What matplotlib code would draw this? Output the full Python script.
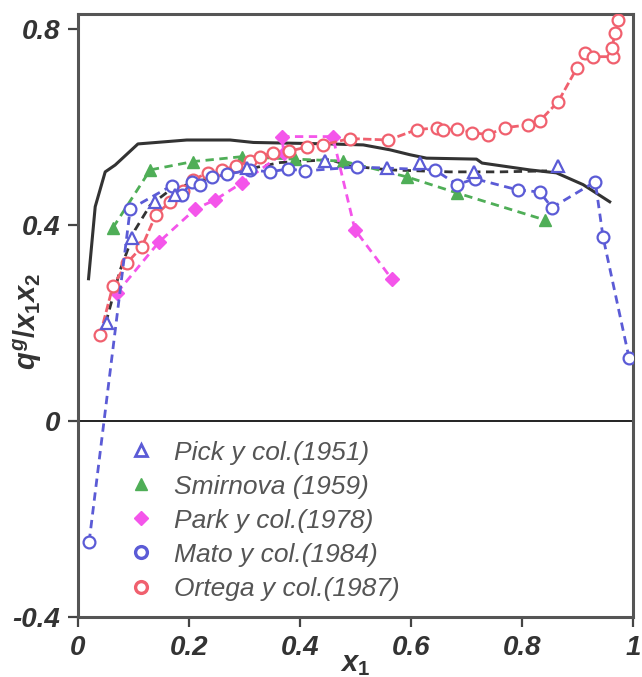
import matplotlib
matplotlib.use("Agg")
import matplotlib.pyplot as plt
from matplotlib.lines import Line2D

# ---- data -------------------------------------------------------------
pick_x = [0.052, 0.097, 0.139, 0.175, 0.304, 0.445, 0.557, 0.616, 0.713, 0.865]
pick_y = [0.200, 0.373, 0.447, 0.461, 0.516, 0.530, 0.516, 0.526, 0.508, 0.519]

smir_x = [0.063, 0.130, 0.207, 0.295, 0.391, 0.477, 0.592, 0.683, 0.841]
smir_y = [0.394, 0.512, 0.529, 0.539, 0.534, 0.530, 0.498, 0.465, 0.410]

park_x = [0.070, 0.146, 0.211, 0.247, 0.296, 0.371, 0.367, 0.459, 0.499, 0.565]
park_y = [0.261, 0.365, 0.432, 0.451, 0.486, 0.547, 0.580, 0.580, 0.390, 0.290]

mato_x = [0.020, 0.094, 0.169, 0.187, 0.205, 0.220, 0.241, 0.268, 0.310, 0.346,
          0.378, 0.409, 0.502, 0.643, 0.683, 0.715, 0.793, 0.832, 0.854, 0.932,
          0.946, 0.993]
mato_y = [-0.247, 0.432, 0.480, 0.461, 0.488, 0.482, 0.497, 0.503, 0.512, 0.508,
          0.514, 0.510, 0.518, 0.512, 0.482, 0.494, 0.471, 0.467, 0.435, 0.488,
          0.375, 0.128]

ort_x = [0.040, 0.063, 0.088, 0.115, 0.140, 0.166, 0.190, 0.207, 0.234, 0.260,
         0.285, 0.310, 0.328, 0.351, 0.380, 0.413, 0.441, 0.490, 0.559, 0.610,
         0.647, 0.658, 0.683, 0.710, 0.739, 0.769, 0.811, 0.832, 0.865, 0.899,
         0.914, 0.928, 0.964, 0.962, 0.968, 0.973]
ort_y = [0.176, 0.276, 0.322, 0.355, 0.420, 0.447, 0.470, 0.492, 0.506, 0.512,
         0.520, 0.530, 0.539, 0.547, 0.550, 0.559, 0.563, 0.576, 0.573, 0.594,
         0.598, 0.594, 0.596, 0.588, 0.584, 0.598, 0.604, 0.612, 0.651, 0.720,
         0.751, 0.743, 0.743, 0.761, 0.792, 0.818]

# correlation curves
fit_x = [0.050, 0.076, 0.103, 0.130, 0.166, 0.220, 0.290, 0.364, 0.454, 0.490,
         0.562, 0.670, 0.760, 0.845]
fit_y = [0.200, 0.308, 0.390, 0.440, 0.471, 0.490, 0.510, 0.527, 0.533, 0.520,
         0.512, 0.508, 0.508, 0.510]

model_x = [0.019, 0.031, 0.049, 0.067, 0.108, 0.196, 0.274, 0.316, 0.454, 0.514,
           0.562, 0.598, 0.628, 0.718, 0.728, 0.814, 0.862, 0.910, 0.958]
model_y = [0.290, 0.437, 0.508, 0.522, 0.565, 0.573, 0.573, 0.568, 0.565, 0.563,
           0.553, 0.543, 0.536, 0.534, 0.526, 0.512, 0.506, 0.482, 0.447]

labels = ["Pick y col.(1951)", "Smirnova (1959)", "Park y col.(1978)",
          "Mato y col.(1984)", "Ortega y col.(1987)"]
x_ticks = [0, 0.2, 0.4, 0.6, 0.8, 1]
x_tick_labels = ["0", "0.2", "0.4", "0.6", "0.8", "1"]
y_ticks = [-0.4, 0, 0.4, 0.8]
y_tick_labels = ["-0.4", "0", "0.4", "0.8"]

# ---- style ------------------------------------------------------------
BLUE = "#5b5bd6"
GREEN = "#4fae57"
MAGENTA = "#f455ea"
RED = "#f0606e"
DARK = "#333333"
plt.rcParams["font.family"] = ["Liberation Sans", "DejaVu Sans"]
plt.rcParams["mathtext.fontset"] = "custom"
plt.rcParams["mathtext.it"] = "Liberation Sans:italic:bold"
plt.rcParams["mathtext.rm"] = "Liberation Sans:bold"

fig = plt.figure(figsize=(6.42, 6.77), dpi=100)
ax = fig.add_axes([0.1215, 0.0886, 0.8645, 0.8907])

dash = (3.0, 2.0)
ms = 8.5
mew = 1.6

ax.axhline(0, color="#222222", lw=1.4, zorder=1)

ax.plot(model_x, model_y, color=DARK, lw=2.2, zorder=2)
ax.plot(fit_x, fit_y, color=DARK, lw=2.0, dashes=dash, zorder=2)

ax.plot(smir_x, smir_y, color=GREEN, lw=2.0, dashes=dash, marker="^", ms=ms,
        mfc=GREEN, mec=GREEN, zorder=3)
ax.plot(park_x, park_y, color=MAGENTA, lw=2.0, dashes=dash, marker="D", ms=7.5,
        mfc=MAGENTA, mec=MAGENTA, zorder=3)
ax.plot(ort_x, ort_y, color=RED, lw=2.0, dashes=(3.0, 1.2), marker="o", ms=ms,
        mfc="white", mec=RED, mew=mew, zorder=4)
ax.plot(mato_x, mato_y, color=BLUE, lw=2.0, dashes=dash, marker="o", ms=ms,
        mfc="white", mec=BLUE, mew=mew, zorder=5)
ax.plot(pick_x, pick_y, ls="none", marker="^", ms=ms, mfc="white", mec=BLUE,
        mew=mew, zorder=6)

ax.set_xlim(0, 1)
ax.set_ylim(-0.4, 0.83)
ax.set_xticks(x_ticks)
ax.set_xticklabels(x_tick_labels)
ax.set_yticks(y_ticks)
ax.set_yticklabels(y_tick_labels)
for lab in ax.get_xticklabels() + ax.get_yticklabels():
    lab.set_fontsize(20)
    lab.set_fontweight("bold")
    lab.set_fontstyle("italic")
    lab.set_color("#333333")
ax.tick_params(direction="out", length=7, width=1.6, color="#444444", pad=6)

for sp in ax.spines.values():
    sp.set_color("#555555")
    sp.set_linewidth(2.2)

ax.set_xlabel(r"$x_{1}$", fontsize=21, color="#333333")
ax.xaxis.set_label_coords(0.5, -0.055)
ax.set_ylabel(r"$q^{g}/x_{1}x_{2}$", fontsize=21, color="#333333")
ax.yaxis.set_label_coords(-0.062, 0.49)

handles = [
    Line2D([], [], ls="none", marker="^", ms=ms, mfc="white", mec=BLUE, mew=2),
    Line2D([], [], ls="none", marker="^", ms=ms, mfc=GREEN, mec=GREEN),
    Line2D([], [], ls="none", marker="D", ms=7, mfc=MAGENTA, mec=MAGENTA),
    Line2D([], [], ls="none", marker="o", ms=ms, mfc="white", mec=BLUE, mew=2.4),
    Line2D([], [], ls="none", marker="o", ms=ms, mfc="white", mec=RED, mew=2.4),
]
leg = ax.legend(handles, labels, loc="upper left", bbox_to_anchor=(0.07, 0.31),
                frameon=False, handlelength=1.0, handletextpad=0.75,
                labelspacing=0.38, borderaxespad=0,
                prop={"family": "Liberation Sans", "style": "italic", "size": 19})
for t in leg.get_texts():
    t.set_color("#555555")

fig.savefig("out.png", dpi=100)
